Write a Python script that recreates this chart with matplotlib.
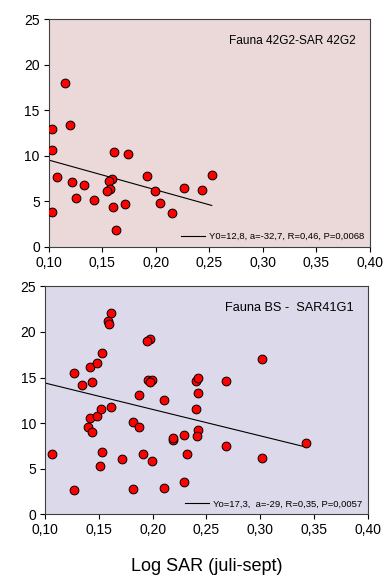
import numpy as np
import matplotlib.pyplot as plt
from matplotlib.ticker import FuncFormatter

plt.rcParams['font.family'] = ['Liberation Sans', 'DejaVu Sans']

# Panel 1: Fauna 42G2 vs SAR 42G2
sar_42g2 = [0.1153, 0.1031, 0.1025, 0.1200, 0.1078, 0.1212, 0.1327, 0.1250,
            0.1424, 0.1028, 0.1608, 0.1742, 0.1590, 0.1560, 0.1567, 0.1546,
            0.1599, 0.1624, 0.1714, 0.1914, 0.1988, 0.2038, 0.2150, 0.2266,
            0.2431, 0.2522]
fauna_42g2 = [17.96, 12.9, 10.6, 13.38, 7.7, 7.18, 6.82, 5.39,
              5.1, 3.78, 10.45, 10.23, 7.48, 7.22, 6.34, 6.09,
              4.36, 1.9, 4.69, 7.81, 6.09, 4.8, 3.67, 6.49,
              6.3, 7.92]
fit_42g2 = (12.8, -32.7)
label_42g2 = 'Y0=12,8, a=-32,7, R=0,46, P=0,0068'

# Panel 2: Fauna BS vs SAR 41G1
sar_41g1 = [0.1068, 0.1267, 0.1267, 0.1347, 0.1418, 0.1487, 0.1527, 0.1440,
            0.1418, 0.1403, 0.1440, 0.1487, 0.1517, 0.1617, 0.1527, 0.1514,
            0.1617, 0.1589, 0.1595, 0.1716, 0.1821, 0.1818, 0.1877, 0.1877,
            0.1908, 0.1976, 0.1948, 0.1954, 0.1992, 0.1973, 0.1995, 0.2106,
            0.2106, 0.2193, 0.2193, 0.2289, 0.2289, 0.2317, 0.2407, 0.2407,
            0.2419, 0.2425, 0.2425, 0.2416, 0.2683, 0.2683, 0.3014, 0.3014,
            0.3423]
fauna_bs = [6.57, 2.63, 15.51, 14.16, 16.13, 16.64, 17.66, 14.49,
            10.55, 9.56, 8.98, 10.73, 11.5, 11.75, 6.79, 5.29,
            22.04, 21.17, 20.84, 6.06, 10.07, 2.77, 13.07, 9.56,
            6.64, 19.27, 19.05, 14.74, 14.71, 14.53, 5.88, 12.48,
            2.85, 8.10, 8.32, 8.65, 3.54, 6.57, 11.53, 14.67,
            14.93, 13.25, 9.2, 8.61, 14.67, 7.48, 17.08, 6.13,
            7.77]
fit_bs = (17.3, -29.0)
label_bs = 'Yo=17,3,  a=-29, R=0,35, P=0,0057'

x_ticks = [0.10, 0.15, 0.20, 0.25, 0.30, 0.35, 0.40]
y_ticks = [0, 5, 10, 15, 20, 25]

comma_fmt = FuncFormatter(lambda v, pos: f'{v:.2f}'.replace('.', ','))


def draw_panel(ax, x, y, fit, fit_label, title, title_size, bg):
    ax.set_facecolor(bg)
    ax.scatter(x, y, s=40, color='#ff0000', edgecolor='black',
               linewidth=0.7, zorder=3)
    xs = np.array([0.10, max(x)])
    ax.plot(xs, fit[0] + fit[1] * xs, color='black', linewidth=0.8,
            label=fit_label, zorder=2)
    ax.set_xlim(0.10, 0.40)
    ax.set_ylim(0, 25)
    ax.set_xticks(x_ticks)
    ax.set_yticks(y_ticks)
    ax.xaxis.set_major_formatter(comma_fmt)
    ax.tick_params(direction='out', length=3.5, width=0.8, labelsize=10,
                   top=False, right=False, pad=3)
    for sp in ax.spines.values():
        sp.set_color('#404040')
        sp.set_linewidth(0.8)
    ax.text(0.955, 0.93, title, transform=ax.transAxes, ha='right',
            va='top', fontsize=title_size)
    ax.legend(loc='lower right', frameon=False, fontsize=6.8,
              handlelength=2.6, handletextpad=0.4, borderaxespad=0.2)


fig = plt.figure(figsize=(3.91, 5.81), dpi=100)
ax1 = fig.add_axes([0.125, 0.575, 0.821, 0.392])
ax2 = fig.add_axes([0.115, 0.115, 0.826, 0.392])

draw_panel(ax1, sar_42g2, fauna_42g2, fit_42g2, label_42g2,
           'Fauna 42G2-SAR 42G2', 8.6, '#ebd9da')
draw_panel(ax2, sar_41g1, fauna_bs, fit_bs, label_bs,
           'Fauna BS -  SAR41G1', 9.2, '#dcdaea')
ax2.set_xlabel('Log SAR (juli-sept)', fontsize=13, labelpad=15)

fig.savefig('out.png', dpi=100)
